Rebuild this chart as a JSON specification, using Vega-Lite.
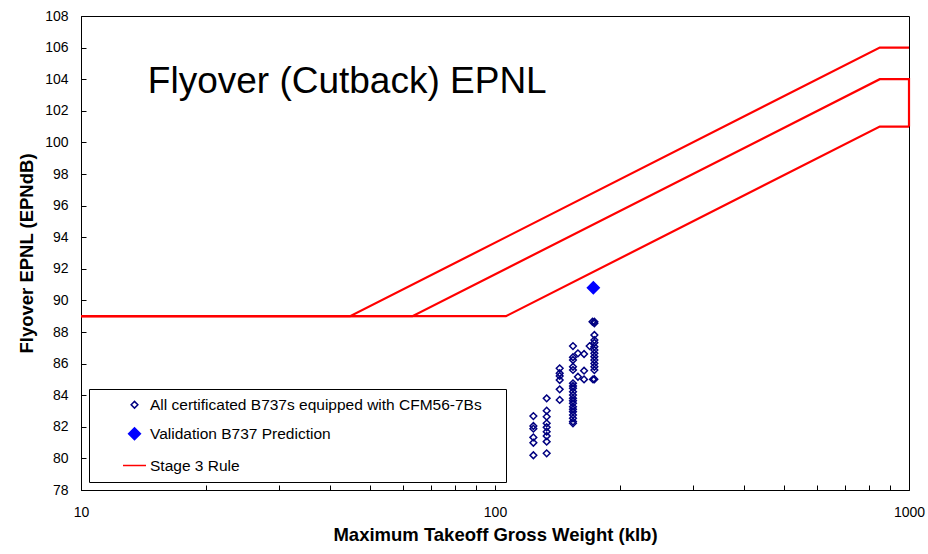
{
  "$schema": "https://vega.github.io/schema/vega-lite/v6.json",
  "width": 828,
  "height": 474,
  "autosize": "none",
  "padding": {"left": 81, "top": 16, "right": 19, "bottom": 64},
  "background": "white",
  "config": {
    "font": "Liberation Sans",
    "view": {"stroke": "#000000", "strokeWidth": 1},
    "axis": {"domainColor": "#000000", "tickColor": "#000000", "labelColor": "#000000", "titleColor": "#000000", "grid": false, "labelFont": "Liberation Sans", "titleFont": "Liberation Sans", "labelOverlap": false},
    "legend": {"labelFont": "Liberation Sans"}
  },
  "datasets": {
    "rule": [
      {"grp": "4 engines", "seq": 1, "mtow": 10, "epnl": 89},
      {"grp": "4 engines", "seq": 2, "mtow": 44.673, "epnl": 89},
      {"grp": "4 engines", "seq": 3, "mtow": 850, "epnl": 106},
      {"grp": "4 engines", "seq": 4, "mtow": 1000, "epnl": 106},
      {"grp": "3 engines", "seq": 1, "mtow": 10, "epnl": 89},
      {"grp": "3 engines", "seq": 2, "mtow": 63.177, "epnl": 89},
      {"grp": "3 engines", "seq": 3, "mtow": 850, "epnl": 104},
      {"grp": "3 engines", "seq": 4, "mtow": 1000, "epnl": 104},
      {"grp": "3 engines", "seq": 5, "mtow": 1000, "epnl": 101},
      {"grp": "2 engines", "seq": 1, "mtow": 10, "epnl": 89},
      {"grp": "2 engines", "seq": 2, "mtow": 106.25, "epnl": 89},
      {"grp": "2 engines", "seq": 3, "mtow": 850, "epnl": 101},
      {"grp": "2 engines", "seq": 4, "mtow": 1000, "epnl": 101}
    ],
    "points": [
      {"series": "All certificated B737s equipped with CFM56-7Bs", "mtow": 123.8, "epnl": 82.68},
      {"series": "All certificated B737s equipped with CFM56-7Bs", "mtow": 123.8, "epnl": 82.05},
      {"series": "All certificated B737s equipped with CFM56-7Bs", "mtow": 123.8, "epnl": 81.88},
      {"series": "All certificated B737s equipped with CFM56-7Bs", "mtow": 123.8, "epnl": 81.33},
      {"series": "All certificated B737s equipped with CFM56-7Bs", "mtow": 123.8, "epnl": 80.99},
      {"series": "All certificated B737s equipped with CFM56-7Bs", "mtow": 123.8, "epnl": 80.2},
      {"series": "All certificated B737s equipped with CFM56-7Bs", "mtow": 133.3, "epnl": 83.8},
      {"series": "All certificated B737s equipped with CFM56-7Bs", "mtow": 133.3, "epnl": 83.02},
      {"series": "All certificated B737s equipped with CFM56-7Bs", "mtow": 133.3, "epnl": 82.64},
      {"series": "All certificated B737s equipped with CFM56-7Bs", "mtow": 133.3, "epnl": 82.22},
      {"series": "All certificated B737s equipped with CFM56-7Bs", "mtow": 133.3, "epnl": 81.97},
      {"series": "All certificated B737s equipped with CFM56-7Bs", "mtow": 133.3, "epnl": 81.69},
      {"series": "All certificated B737s equipped with CFM56-7Bs", "mtow": 133.3, "epnl": 81.42},
      {"series": "All certificated B737s equipped with CFM56-7Bs", "mtow": 133.3, "epnl": 81.06},
      {"series": "All certificated B737s equipped with CFM56-7Bs", "mtow": 133.3, "epnl": 80.32},
      {"series": "All certificated B737s equipped with CFM56-7Bs", "mtow": 143.3, "epnl": 85.7},
      {"series": "All certificated B737s equipped with CFM56-7Bs", "mtow": 143.3, "epnl": 85.39},
      {"series": "All certificated B737s equipped with CFM56-7Bs", "mtow": 143.3, "epnl": 85.22},
      {"series": "All certificated B737s equipped with CFM56-7Bs", "mtow": 143.3, "epnl": 84.96},
      {"series": "All certificated B737s equipped with CFM56-7Bs", "mtow": 143.3, "epnl": 84.37},
      {"series": "All certificated B737s equipped with CFM56-7Bs", "mtow": 143.3, "epnl": 83.7},
      {"series": "All certificated B737s equipped with CFM56-7Bs", "mtow": 154.3, "epnl": 87.11},
      {"series": "All certificated B737s equipped with CFM56-7Bs", "mtow": 154.3, "epnl": 86.4},
      {"series": "All certificated B737s equipped with CFM56-7Bs", "mtow": 154.3, "epnl": 86.23},
      {"series": "All certificated B737s equipped with CFM56-7Bs", "mtow": 154.3, "epnl": 85.8},
      {"series": "All certificated B737s equipped with CFM56-7Bs", "mtow": 154.3, "epnl": 85.6},
      {"series": "All certificated B737s equipped with CFM56-7Bs", "mtow": 154.3, "epnl": 84.75},
      {"series": "All certificated B737s equipped with CFM56-7Bs", "mtow": 154.3, "epnl": 84.58},
      {"series": "All certificated B737s equipped with CFM56-7Bs", "mtow": 154.3, "epnl": 84.44},
      {"series": "All certificated B737s equipped with CFM56-7Bs", "mtow": 154.3, "epnl": 84.22},
      {"series": "All certificated B737s equipped with CFM56-7Bs", "mtow": 154.3, "epnl": 84.01},
      {"series": "All certificated B737s equipped with CFM56-7Bs", "mtow": 154.3, "epnl": 83.8},
      {"series": "All certificated B737s equipped with CFM56-7Bs", "mtow": 154.3, "epnl": 83.65},
      {"series": "All certificated B737s equipped with CFM56-7Bs", "mtow": 154.3, "epnl": 83.49},
      {"series": "All certificated B737s equipped with CFM56-7Bs", "mtow": 154.3, "epnl": 83.27},
      {"series": "All certificated B737s equipped with CFM56-7Bs", "mtow": 154.3, "epnl": 83.11},
      {"series": "All certificated B737s equipped with CFM56-7Bs", "mtow": 154.3, "epnl": 82.96},
      {"series": "All certificated B737s equipped with CFM56-7Bs", "mtow": 154.3, "epnl": 82.75},
      {"series": "All certificated B737s equipped with CFM56-7Bs", "mtow": 154.3, "epnl": 82.54},
      {"series": "All certificated B737s equipped with CFM56-7Bs", "mtow": 154.3, "epnl": 82.33},
      {"series": "All certificated B737s equipped with CFM56-7Bs", "mtow": 154.3, "epnl": 82.22},
      {"series": "All certificated B737s equipped with CFM56-7Bs", "mtow": 158.6, "epnl": 86.65},
      {"series": "All certificated B737s equipped with CFM56-7Bs", "mtow": 158.6, "epnl": 85.17},
      {"series": "All certificated B737s equipped with CFM56-7Bs", "mtow": 164.1, "epnl": 86.61},
      {"series": "All certificated B737s equipped with CFM56-7Bs", "mtow": 164.1, "epnl": 85.55},
      {"series": "All certificated B737s equipped with CFM56-7Bs", "mtow": 164.1, "epnl": 85.0},
      {"series": "All certificated B737s equipped with CFM56-7Bs", "mtow": 169.3, "epnl": 87.11},
      {"series": "All certificated B737s equipped with CFM56-7Bs", "mtow": 172.0, "epnl": 88.65},
      {"series": "All certificated B737s equipped with CFM56-7Bs", "mtow": 172.5, "epnl": 85.0},
      {"series": "All certificated B737s equipped with CFM56-7Bs", "mtow": 173.8, "epnl": 88.65},
      {"series": "All certificated B737s equipped with CFM56-7Bs", "mtow": 173.8, "epnl": 88.55},
      {"series": "All certificated B737s equipped with CFM56-7Bs", "mtow": 173.8, "epnl": 87.81},
      {"series": "All certificated B737s equipped with CFM56-7Bs", "mtow": 173.8, "epnl": 87.49},
      {"series": "All certificated B737s equipped with CFM56-7Bs", "mtow": 173.8, "epnl": 87.32},
      {"series": "All certificated B737s equipped with CFM56-7Bs", "mtow": 173.8, "epnl": 87.07},
      {"series": "All certificated B737s equipped with CFM56-7Bs", "mtow": 173.8, "epnl": 86.86},
      {"series": "All certificated B737s equipped with CFM56-7Bs", "mtow": 173.8, "epnl": 86.65},
      {"series": "All certificated B737s equipped with CFM56-7Bs", "mtow": 173.8, "epnl": 86.44},
      {"series": "All certificated B737s equipped with CFM56-7Bs", "mtow": 173.8, "epnl": 86.23},
      {"series": "All certificated B737s equipped with CFM56-7Bs", "mtow": 173.8, "epnl": 86.01},
      {"series": "All certificated B737s equipped with CFM56-7Bs", "mtow": 173.8, "epnl": 85.8},
      {"series": "All certificated B737s equipped with CFM56-7Bs", "mtow": 173.8, "epnl": 85.59},
      {"series": "All certificated B737s equipped with CFM56-7Bs", "mtow": 173.8, "epnl": 85.01},
      {"series": "Validation B737 Prediction", "mtow": 172.8, "epnl": 90.8}
    ]
  },
  "layer": [
    {
      "data": {"name": "rule"},
      "mark": {"type": "line", "color": "#FF0000", "strokeWidth": 2.2, "clip": false},
      "encoding": {
        "x": {
          "field": "mtow", "type": "quantitative",
          "scale": {"type": "log", "domain": [10, 1000], "nice": false},
          "axis": {
            "title": "Maximum Takeoff Gross Weight (klb)",
            "titleFontSize": 18.5, "titleFontWeight": "bold", "titlePadding": 6,
            "values": [10, 20, 30, 40, 50, 60, 70, 80, 90, 100, 200, 300, 400, 500, 600, 700, 800, 900, 1000],
            "labelExpr": "(datum.value == 10 || datum.value == 100 || datum.value == 1000) ? format(datum.value, 'd') : ''",
            "labelFontSize": 14, "labelPadding": 20, "tickSize": -5, "labelFlush": false, "labelOverlap": false
          }
        },
        "y": {
          "field": "epnl", "type": "quantitative",
          "scale": {"domain": [78, 108], "nice": false, "zero": false},
          "axis": {
            "title": "Flyover EPNL (EPNdB)",
            "titleFontSize": 18.5, "titleFontWeight": "bold", "titlePadding": 8,
            "values": [78, 80, 82, 84, 86, 88, 90, 92, 94, 96, 98, 100, 102, 104, 106, 108],
            "labelFontSize": 14, "labelPadding": 18, "tickSize": -5, "labelFlush": false, "labelOverlap": false
          }
        },
        "detail": {"field": "grp"},
        "order": {"field": "seq", "type": "quantitative"}
      }
    },
    {
      "data": {"name": "points"},
      "mark": {"type": "point", "filled": true, "strokeWidth": 1.5, "opacity": 1},
      "encoding": {
        "x": {
          "field": "mtow", "type": "quantitative",
          "axis": {
            "title": "Maximum Takeoff Gross Weight (klb)",
            "titleFontSize": 18.5, "titleFontWeight": "bold", "titlePadding": 6,
            "values": [10, 20, 30, 40, 50, 60, 70, 80, 90, 100, 200, 300, 400, 500, 600, 700, 800, 900, 1000],
            "labelExpr": "(datum.value == 10 || datum.value == 100 || datum.value == 1000) ? format(datum.value, 'd') : ''",
            "labelFontSize": 14, "labelPadding": 20, "tickSize": -5, "labelFlush": false, "labelOverlap": false
          }
        },
        "y": {
          "field": "epnl", "type": "quantitative",
          "axis": {
            "title": "Flyover EPNL (EPNdB)",
            "titleFontSize": 18.5, "titleFontWeight": "bold", "titlePadding": 8,
            "values": [78, 80, 82, 84, 86, 88, 90, 92, 94, 96, 98, 100, 102, 104, 106, 108],
            "labelFontSize": 14, "labelPadding": 18, "tickSize": -5, "labelFlush": false, "labelOverlap": false
          }
        },
        "shape": {
          "field": "series", "type": "nominal",
          "scale": {"domain": ["All certificated B737s equipped with CFM56-7Bs", "Validation B737 Prediction", "Stage 3 Rule"], "range": ["diamond", "diamond", "stroke"]},
          "legend": {
            "title": " ", "titleOrient": "right", "titlePadding": 16, "titleFontSize": 14,
            "orient": "bottom-left", "offset": 8,
            "strokeColor": "#000000", "fillColor": "#FFFFFF", "padding": 8,
            "symbolOffset": 25, "labelOffset": 3, "labelFontSize": 15.5, "labelColor": "#000000",
            "rowPadding": 10, "symbolStrokeWidth": 1.5, "symbolOpacity": 1, "labelLimit": 500
          }
        },
        "fill": {
          "field": "series", "type": "nominal",
          "scale": {"domain": ["All certificated B737s equipped with CFM56-7Bs", "Validation B737 Prediction", "Stage 3 Rule"], "range": ["transparent", "#0000FF", "transparent"]},
          "legend": {"title": " "}
        },
        "stroke": {
          "field": "series", "type": "nominal",
          "scale": {"domain": ["All certificated B737s equipped with CFM56-7Bs", "Validation B737 Prediction", "Stage 3 Rule"], "range": ["#000080", "#0000FF", "#FF0000"]},
          "legend": {"title": " "}
        },
        "size": {
          "field": "series", "type": "nominal",
          "scale": {"type": "ordinal", "domain": ["All certificated B737s equipped with CFM56-7Bs", "Validation B737 Prediction", "Stage 3 Rule"], "range": [45, 140, 529]},
          "legend": {"title": " "}
        }
      }
    },
    {
      "data": {"values": [{"label": "Flyover (Cutback) EPNL"}]},
      "mark": {"type": "text", "align": "left", "baseline": "alphabetic", "fontSize": 37, "font": "Liberation Sans", "fill": "#000000"},
      "encoding": {
        "x": {
          "datum": 14.5, "type": "quantitative",
          "axis": {
            "title": "Maximum Takeoff Gross Weight (klb)",
            "titleFontSize": 18.5, "titleFontWeight": "bold", "titlePadding": 6,
            "values": [10, 20, 30, 40, 50, 60, 70, 80, 90, 100, 200, 300, 400, 500, 600, 700, 800, 900, 1000],
            "labelExpr": "(datum.value == 10 || datum.value == 100 || datum.value == 1000) ? format(datum.value, 'd') : ''",
            "labelFontSize": 14, "labelPadding": 20, "tickSize": -5, "labelFlush": false, "labelOverlap": false
          }
        },
        "y": {
          "datum": 103.1, "type": "quantitative",
          "axis": {
            "title": "Flyover EPNL (EPNdB)",
            "titleFontSize": 18.5, "titleFontWeight": "bold", "titlePadding": 8,
            "values": [78, 80, 82, 84, 86, 88, 90, 92, 94, 96, 98, 100, 102, 104, 106, 108],
            "labelFontSize": 14, "labelPadding": 18, "tickSize": -5, "labelFlush": false, "labelOverlap": false
          }
        },
        "text": {"field": "label", "type": "nominal"}
      }
    }
  ]
}
